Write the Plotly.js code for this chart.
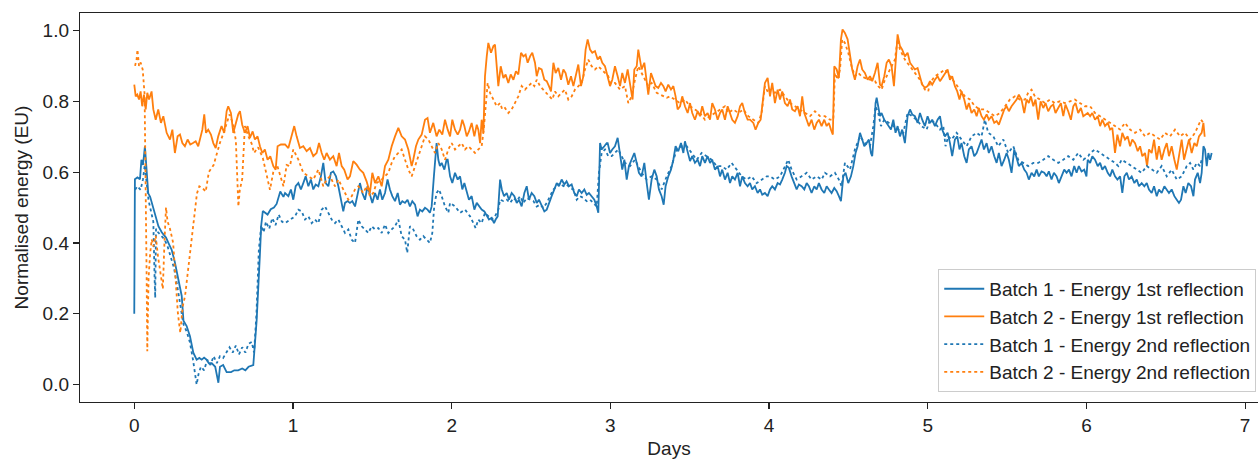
<!DOCTYPE html>
<html>
<head>
<meta charset="utf-8">
<script src="https://cdn.plot.ly/plotly-3.0.1.min.js"></script>
<style>html,body{margin:0;padding:0;background:#fff;}#chart{width:1258px;height:459px;}</style>
</head>
<body>
<div id="chart"></div>
<script>
// Batch 1 - Energy 1st reflection
const b1r1_days = [0,0.004,0.02,0.036,0.045,0.055,0.067,0.078,0.088,0.1,0.12,0.141,0.152,0.173,0.19,0.2,0.215,0.236,0.256,0.277,0.299,0.31,0.33,0.351,0.372,0.393,0.41,0.425,0.44,0.456,0.47,0.488,0.51,0.53,0.54,0.56,0.582,0.61,0.63,0.655,0.68,0.7,0.72,0.75,0.771,0.792,0.8,0.81,0.824,0.84,0.86,0.88,0.897,0.92,0.94,
0.950,0.971,0.987,1.002,1.017,1.034,1.050,1.065,1.080,1.097,1.113,1.128,1.143,1.160,1.176,1.191,1.206,1.223,1.239,1.254,1.271,1.286,1.302,1.317,1.328,1.344,1.359,1.374,1.391,1.407,1.422,1.437,1.454,1.470,1.485,1.500,1.517,1.533,1.548,1.563,1.580,1.596,1.611,1.626,1.643,1.660,1.674,1.689,1.706,1.722,1.737,1.752,1.769,1.785,1.800,1.815,1.832,1.848,1.863,1.874,1.888,1.899,1.905,1.916,1.926,1.937,1.954,1.968,
1.975,1.990,2.004,2.021,2.038,2.053,2.067,2.080,2.095,2.109,2.126,2.143,2.158,2.172,2.189,2.206,2.221,2.235,2.252,2.267,2.277,2.290,2.305,2.316,2.330,2.347,2.361,2.378,2.395,2.410,2.424,2.441,2.458,2.473,2.487,2.504,2.521,2.536,2.550,2.567,2.584,2.599,2.613,2.630,2.647,2.662,2.676,2.693,2.710,2.724,2.739,2.756,2.773,2.788,2.802,2.819,2.836,2.851,2.865,2.882,2.899,2.914,2.924,2.935,2.945,2.962,2.977,
2.983,2.998,3.012,3.029,3.046,3.061,3.075,3.088,3.103,3.117,3.134,3.151,3.166,3.180,3.197,3.214,3.229,3.243,3.260,3.277,3.292,3.306,3.323,3.336,3.348,3.365,3.382,3.397,3.411,3.428,3.445,3.460,3.470,3.487,3.502,3.516,3.533,3.550,3.565,3.579,3.596,3.613,3.628,3.642,3.659,3.676,3.691,3.705,3.722,3.739,3.754,3.768,3.785,3.802,3.817,3.831,3.848,3.865,3.880,3.894,3.911,3.928,3.943,3.957,3.974,
3.991,4.006,4.020,4.037,4.054,4.069,4.083,4.100,4.111,4.125,4.142,4.159,4.174,4.188,4.205,4.222,4.237,4.251,4.268,4.285,4.300,4.314,4.331,4.348,4.363,4.377,4.394,4.411,4.426,4.440,4.453,4.468,4.482,4.499,4.516,4.531,4.545,4.558,4.573,4.587,4.600,4.615,4.629,4.642,4.650,4.663,4.671,4.678,4.688,4.699,4.709,4.726,4.741,4.755,4.768,4.783,4.797,4.810,4.825,4.839,4.856,4.873,4.888,4.902,4.919,4.936,4.951,4.965,4.982,
4.999,5.014,5.028,5.045,5.062,5.077,5.091,5.108,5.125,5.140,5.154,5.171,5.186,5.200,5.213,5.230,5.245,5.259,5.276,5.293,5.308,5.322,5.339,5.354,5.371,5.385,5.402,5.419,5.434,5.448,5.465,5.482,5.497,5.511,5.528,5.545,5.560,5.574,5.591,5.608,5.623,5.637,5.654,5.671,5.686,5.700,5.717,5.734,5.749,5.763,5.780,5.795,5.812,5.826,5.843,5.860,5.875,5.890,5.906,5.923,5.938,5.952,5.969,5.986,6.000,
6.008,6.023,6.037,6.054,6.071,6.086,6.100,6.117,6.134,6.149,6.163,6.180,6.195,6.212,6.226,6.239,6.254,6.268,6.285,6.302,6.317,6.331,6.348,6.365,6.380,6.394,6.411,6.426,6.443,6.457,6.474,6.491,6.506,6.520,6.537,6.554,6.569,6.583,6.596,6.611,6.625,6.642,6.659,6.674,6.684,6.701,6.716,6.726,6.737,6.747,6.758,6.768,6.779,6.789];
const b1r1_vals = [0.20,0.58,0.585,0.58,0.635,0.62,0.673,0.60,0.54,0.53,0.50,0.466,0.447,0.43,0.42,0.415,0.40,0.38,0.345,0.30,0.25,0.18,0.165,0.136,0.09,0.07,0.075,0.07,0.076,0.07,0.06,0.06,0.05,0.005,0.05,0.055,0.035,0.035,0.04,0.04,0.045,0.04,0.05,0.055,0.18,0.37,0.45,0.49,0.485,0.48,0.495,0.50,0.51,0.545,0.53,
0.541,0.532,0.551,0.522,0.560,0.569,0.551,0.569,0.588,0.560,0.579,0.551,0.565,0.560,0.588,0.626,0.569,0.560,0.598,0.602,0.588,0.560,0.522,0.489,0.513,0.518,0.513,0.518,0.503,0.541,0.569,0.541,0.522,0.560,0.532,0.513,0.541,0.522,0.551,0.522,0.541,0.579,0.551,0.532,0.518,0.541,0.508,0.518,0.513,0.522,0.503,0.518,0.508,0.475,0.494,0.489,0.499,0.494,0.485,0.503,0.588,0.654,0.682,0.635,0.617,0.626,0.607,0.635,
0.635,0.588,0.569,0.598,0.579,0.588,0.551,0.569,0.541,0.522,0.532,0.494,0.513,0.503,0.494,0.489,0.475,0.466,0.471,0.456,0.466,0.475,0.579,0.551,0.532,0.541,0.522,0.541,0.532,0.513,0.522,0.503,0.541,0.560,0.522,0.541,0.532,0.513,0.522,0.503,0.489,0.494,0.513,0.532,0.551,0.569,0.560,0.579,0.565,0.574,0.560,0.565,0.541,0.532,0.551,0.541,0.551,0.536,0.541,0.532,0.522,0.503,0.485,0.682,0.664,0.673,0.682,
0.682,0.654,0.664,0.673,0.697,0.654,0.607,0.635,0.579,0.617,0.635,0.654,0.626,0.598,0.588,0.626,0.569,0.522,0.579,0.607,0.588,0.551,0.532,0.508,0.560,0.588,0.607,0.635,0.673,0.659,0.682,0.654,0.687,0.654,0.631,0.645,0.626,0.635,0.617,0.645,0.626,0.645,0.626,0.635,0.607,0.617,0.588,0.607,0.579,0.598,0.569,0.588,0.579,0.598,0.560,0.588,0.569,0.560,0.569,0.551,0.560,0.541,0.551,0.536,0.541,
0.532,0.551,0.560,0.551,0.569,0.565,0.579,0.598,0.617,0.612,0.588,0.569,0.551,0.565,0.560,0.551,0.569,0.560,0.541,0.560,0.551,0.569,0.551,0.541,0.560,0.551,0.541,0.555,0.546,0.532,0.518,0.588,0.598,0.569,0.588,0.617,0.654,0.673,0.711,0.692,0.673,0.682,0.692,0.654,0.645,0.720,0.795,0.810,0.786,0.758,0.767,0.748,0.739,0.730,0.720,0.748,0.711,0.730,0.701,0.720,0.682,0.758,0.777,0.763,0.758,0.739,0.767,0.748,0.730,
0.758,0.739,0.748,0.730,0.748,0.758,0.720,0.701,0.711,0.682,0.645,0.692,0.701,0.664,0.682,0.645,0.626,0.664,0.673,0.645,0.654,0.673,0.692,0.664,0.682,0.654,0.673,0.645,0.626,0.654,0.617,0.635,0.654,0.635,0.598,0.664,0.635,0.617,0.626,0.607,0.598,0.579,0.598,0.588,0.607,0.588,0.602,0.598,0.588,0.602,0.579,0.598,0.588,0.569,0.588,0.607,0.598,0.607,0.588,0.617,0.598,0.617,0.602,0.607,0.588,
0.635,0.626,0.645,0.635,0.617,0.626,0.607,0.617,0.598,0.588,0.607,0.588,0.579,0.588,0.541,0.588,0.598,0.579,0.588,0.569,0.579,0.560,0.569,0.560,0.569,0.551,0.541,0.560,0.532,0.551,0.541,0.560,0.551,0.541,0.551,0.532,0.522,0.513,0.522,0.560,0.541,0.569,0.560,0.532,0.579,0.598,0.569,0.598,0.673,0.664,0.617,0.654,0.635,0.654];

// Batch 2 - Energy 1st reflection
const b2r1_days = [0,0.009,0.019,0.030,0.040,0.050,0.061,0.072,0.082,0.093,0.109,0.120,0.135,0.151,0.168,0.183,0.204,0.225,0.240,0.256,0.273,0.288,0.303,0.319,0.336,0.353,0.370,0.387,0.403,0.420,0.429,0.441,0.452,0.466,0.483,0.498,0.513,0.529,0.550,0.567,0.582,0.592,0.609,0.624,0.641,0.655,0.666,0.680,0.697,0.714,0.729,0.746,0.760,0.777,0.792,0.807,0.823,0.840,0.857,0.876,0.891,0.903,0.924,
0.950,0.971,0.992,1.008,1.023,1.044,1.065,1.086,1.107,1.128,1.149,1.164,1.181,1.197,1.212,1.233,1.254,1.275,1.290,1.307,1.323,1.344,1.359,1.380,1.401,1.422,1.443,1.464,1.485,1.500,1.517,1.538,1.559,1.580,1.601,1.622,1.643,1.664,1.685,1.706,1.727,1.748,1.758,1.775,1.790,1.811,1.832,1.848,1.863,1.884,1.905,1.922,1.941,1.958,
1.975,1.990,2.004,2.021,2.038,2.053,2.067,2.080,2.095,2.109,2.126,2.143,2.158,2.168,2.179,2.189,2.200,2.210,2.221,2.231,2.248,2.263,2.273,2.284,2.294,2.309,2.326,2.340,2.357,2.372,2.389,2.405,2.420,2.437,2.452,2.466,2.479,2.494,2.508,2.525,2.536,2.550,2.567,2.584,2.599,2.613,2.626,2.641,2.655,2.672,2.689,2.704,2.718,2.735,2.752,2.767,2.783,2.798,2.815,2.830,2.844,2.857,2.872,2.886,2.903,2.920,2.935,2.949,2.966,
2.983,2.998,3.012,3.029,3.046,3.061,3.075,3.092,3.109,3.124,3.140,3.151,3.166,3.176,3.187,3.197,3.214,3.229,3.239,3.256,3.271,3.285,3.302,3.319,3.334,3.348,3.365,3.382,3.397,3.411,3.424,3.439,3.453,3.470,3.487,3.502,3.516,3.533,3.550,3.565,3.579,3.596,3.613,3.628,3.642,3.659,3.676,3.691,3.705,3.722,3.739,3.754,3.768,3.785,3.802,3.817,3.831,3.848,3.865,3.880,3.901,3.915,3.932,3.947,3.964,
3.974,3.991,4.006,4.020,4.037,4.054,4.069,4.083,4.100,4.117,4.132,4.146,4.163,4.180,4.195,4.209,4.222,4.237,4.251,4.268,4.285,4.300,4.314,4.331,4.348,4.363,4.377,4.390,4.402,4.411,4.426,4.440,4.453,4.463,4.478,4.495,4.510,4.524,4.541,4.558,4.573,4.587,4.604,4.621,4.636,4.650,4.667,4.684,4.699,4.709,4.726,4.741,4.755,4.772,4.787,4.799,4.810,4.825,4.839,4.856,4.873,4.888,4.902,4.919,4.936,4.951,4.965,4.982,
4.999,5.014,5.028,5.045,5.062,5.077,5.091,5.108,5.125,5.140,5.154,5.171,5.186,5.200,5.213,5.230,5.245,5.259,5.276,5.293,5.308,5.322,5.339,5.354,5.371,5.385,5.402,5.419,5.434,5.448,5.465,5.482,5.497,5.511,5.528,5.545,5.560,5.574,5.591,5.608,5.623,5.637,5.650,5.665,5.679,5.696,5.711,5.728,5.742,5.759,5.776,5.791,5.805,5.822,5.839,5.854,5.868,5.885,5.902,5.917,5.931,5.948,5.965,5.980,
6.008,6.023,6.037,6.054,6.071,6.086,6.100,6.117,6.134,6.149,6.163,6.180,6.195,6.212,6.226,6.243,6.260,6.275,6.289,6.306,6.323,6.338,6.352,6.369,6.382,6.394,6.411,6.426,6.443,6.457,6.474,6.491,6.506,6.520,6.537,6.554,6.569,6.583,6.600,6.615,6.632,6.646,6.663,6.680,6.695,6.709,6.726,6.737,6.745];
const b2r1_vals = [0.847,0.814,0.819,0.805,0.828,0.786,0.819,0.777,0.824,0.805,0.828,0.777,0.748,0.777,0.739,0.758,0.711,0.692,0.720,0.654,0.701,0.706,0.682,0.673,0.692,0.678,0.682,0.687,0.673,0.701,0.720,0.763,0.711,0.720,0.706,0.682,0.668,0.701,0.730,0.711,0.772,0.786,0.767,0.711,0.744,0.763,0.772,0.734,0.711,0.730,0.697,0.715,0.692,0.701,0.673,0.654,0.664,0.635,0.645,0.617,0.607,0.673,0.678,
0.678,0.668,0.701,0.730,0.701,0.668,0.673,0.659,0.668,0.645,0.654,0.682,0.654,0.635,0.654,0.635,0.645,0.617,0.654,0.617,0.607,0.579,0.588,0.631,0.621,0.607,0.598,0.574,0.541,0.598,0.569,0.588,0.560,0.617,0.635,0.673,0.701,0.725,0.701,0.692,0.664,0.617,0.635,0.673,0.692,0.706,0.748,0.753,0.711,0.739,0.701,0.720,0.706,0.748,
0.720,0.701,0.748,0.720,0.706,0.720,0.748,0.730,0.701,0.715,0.739,0.701,0.734,0.720,0.682,0.748,0.711,0.871,0.927,0.965,0.937,0.956,0.960,0.890,0.843,0.899,0.866,0.876,0.852,0.876,0.861,0.885,0.876,0.937,0.927,0.932,0.909,0.927,0.937,0.909,0.871,0.894,0.890,0.861,0.857,0.843,0.828,0.909,0.880,0.894,0.861,0.890,0.880,0.847,0.871,0.843,0.880,0.904,0.843,0.871,0.946,0.975,0.946,0.937,0.942,0.918,0.927,0.909,0.899,
0.871,0.843,0.861,0.899,0.871,0.843,0.880,0.852,0.890,0.843,0.805,0.890,0.899,0.946,0.918,0.890,0.909,0.852,0.819,0.880,0.861,0.843,0.838,0.852,0.843,0.828,0.847,0.833,0.843,0.814,0.777,0.786,0.814,0.786,0.767,0.795,0.767,0.748,0.772,0.758,0.786,0.758,0.767,0.748,0.795,0.777,0.748,0.767,0.777,0.748,0.786,0.767,0.748,0.739,0.758,0.786,0.795,0.767,0.748,0.748,0.739,0.720,0.739,0.748,0.805,
0.852,0.866,0.814,0.852,0.795,0.833,0.805,0.828,0.795,0.786,0.805,0.777,0.772,0.786,0.758,0.814,0.767,0.748,0.730,0.748,0.720,0.739,0.748,0.730,0.748,0.730,0.739,0.720,0.706,0.899,0.890,0.866,0.975,1.003,0.993,0.975,0.927,0.890,0.861,0.899,0.918,0.890,0.880,0.861,0.871,0.857,0.880,0.909,0.847,0.843,0.871,0.909,0.918,0.899,0.843,0.937,0.989,0.956,0.946,0.927,0.937,0.909,0.899,0.890,0.894,0.871,0.847,0.838,
0.843,0.857,0.847,0.861,0.871,0.857,0.866,0.876,0.890,0.861,0.871,0.843,0.828,0.805,0.828,0.805,0.777,0.795,0.767,0.777,0.758,0.781,0.758,0.748,0.763,0.748,0.758,0.739,0.744,0.734,0.758,0.777,0.786,0.772,0.786,0.795,0.805,0.819,0.805,0.767,0.805,0.795,0.814,0.786,0.805,0.748,0.800,0.781,0.795,0.772,0.786,0.791,0.767,0.781,0.795,0.758,0.791,0.772,0.748,0.786,0.795,0.767,0.781,0.758,
0.767,0.758,0.767,0.748,0.758,0.730,0.748,0.730,0.739,0.720,0.725,0.654,0.706,0.673,0.711,0.692,0.701,0.673,0.692,0.682,0.659,0.673,0.645,0.654,0.617,0.664,0.654,0.692,0.635,0.673,0.635,0.664,0.682,0.645,0.673,0.635,0.607,0.645,0.692,0.635,0.664,0.692,0.654,0.682,0.673,0.701,0.711,0.739,0.700];

// Batch 1 - Energy 2nd reflection
const b1r2_days = [0.005,0.02,0.04,0.055,0.066,0.078,0.09,0.105,0.12,0.128,0.132,0.137,0.15,0.17,0.19,0.21,0.23,0.25,0.27,0.29,0.31,0.33,0.35,0.37,0.385,0.393,0.405,0.42,0.44,0.46,0.48,0.50,0.52,0.54,0.56,0.58,0.60,0.62,0.64,0.66,0.68,0.70,0.72,0.74,0.755,0.77,0.785,0.80,0.815,0.83,0.85,0.87,0.89,0.91,0.93,
0.950,0.981,1.013,1.034,1.055,1.076,1.097,1.118,1.139,1.160,1.181,1.202,1.223,1.244,1.265,1.286,1.307,1.328,1.349,1.370,1.391,1.412,1.433,1.454,1.475,1.496,1.517,1.538,1.559,1.580,1.601,1.622,1.643,1.664,1.685,1.706,1.720,1.737,1.758,1.779,1.800,1.821,1.842,1.863,1.878,1.890,1.905,1.920,1.937,1.958,1.979,
1.990,2.021,2.053,2.084,2.116,2.137,2.151,2.168,2.189,2.210,2.231,2.252,2.273,2.294,2.305,2.326,2.347,2.368,2.389,2.410,2.431,2.452,2.473,2.494,2.515,2.536,2.557,2.578,2.599,2.620,2.641,2.662,2.683,2.704,2.725,2.746,2.767,2.788,2.809,2.830,2.851,2.872,2.893,2.914,2.928,2.945,2.966,2.987,
3.008,3.050,3.092,3.124,3.155,3.197,3.229,3.260,3.292,3.323,3.355,3.386,3.418,3.449,3.481,3.512,3.544,3.575,3.607,3.638,3.670,3.701,3.733,3.764,3.796,3.827,3.859,3.890,3.922,3.953,3.985,
4.006,4.037,4.069,4.100,4.121,4.142,4.174,4.205,4.237,4.268,4.300,4.331,4.352,4.384,4.415,4.440,4.457,4.478,4.510,4.541,4.573,4.604,4.636,4.657,4.671,4.688,4.705,4.726,4.751,4.783,4.814,4.846,4.873,4.898,4.930,4.961,4.993,
5.014,5.045,5.077,5.098,5.112,5.129,5.150,5.182,5.213,5.245,5.276,5.308,5.339,5.360,5.381,5.413,5.444,5.476,5.507,5.539,5.570,5.602,5.633,5.665,5.696,5.728,5.759,5.791,5.822,5.854,5.885,5.917,5.948,5.980,6.011,
6.023,6.054,6.086,6.117,6.149,6.180,6.201,6.222,6.254,6.285,6.317,6.348,6.380,6.411,6.443,6.474,6.506,6.537,6.569,6.600,6.632,6.653,6.674,6.695,6.716,6.726];
const b1r2_vals = [0.55,0.56,0.55,0.58,0.62,0.56,0.52,0.49,0.46,0.30,0.245,0.44,0.43,0.42,0.41,0.39,0.36,0.33,0.28,0.22,0.17,0.15,0.12,0.07,0.02,0.0,0.03,0.05,0.04,0.07,0.055,0.08,0.06,0.08,0.075,0.09,0.105,0.09,0.11,0.085,0.105,0.09,0.115,0.12,0.09,0.2,0.38,0.45,0.43,0.46,0.44,0.47,0.45,0.48,0.46,
0.456,0.466,0.475,0.494,0.489,0.466,0.475,0.456,0.466,0.456,0.494,0.503,0.485,0.466,0.456,0.466,0.447,0.428,0.438,0.409,0.400,0.466,0.447,0.438,0.428,0.447,0.438,0.442,0.428,0.452,0.428,0.438,0.447,0.466,0.419,0.409,0.372,0.447,0.438,0.419,0.409,0.419,0.409,0.400,0.428,0.503,0.541,0.551,0.532,0.503,0.485,
0.513,0.503,0.485,0.494,0.475,0.456,0.442,0.466,0.456,0.485,0.475,0.466,0.475,0.494,0.522,0.518,0.522,0.513,0.527,0.518,0.532,0.513,0.527,0.522,0.518,0.503,0.508,0.499,0.513,0.532,0.551,0.560,0.569,0.560,0.565,0.555,0.551,0.522,0.532,0.527,0.518,0.522,0.513,0.503,0.598,0.654,0.664,0.645,
0.645,0.664,0.626,0.617,0.635,0.598,0.579,0.588,0.579,0.551,0.588,0.617,0.664,0.673,0.673,0.654,0.635,0.654,0.645,0.635,0.617,0.617,0.607,0.626,0.607,0.588,0.579,0.588,0.569,0.579,0.588,
0.588,0.579,0.588,0.617,0.635,0.607,0.579,0.588,0.598,0.579,0.588,0.579,0.598,0.588,0.598,0.579,0.560,0.626,0.607,0.664,0.701,0.682,0.673,0.730,0.786,0.767,0.730,0.748,0.739,0.730,0.720,0.711,0.767,0.758,0.748,0.730,0.720,
0.748,0.739,0.720,0.730,0.673,0.701,0.692,0.711,0.692,0.673,0.701,0.711,0.701,0.748,0.711,0.701,0.673,0.692,0.654,0.673,0.635,0.626,0.617,0.626,0.626,0.635,0.645,0.635,0.626,0.635,0.645,0.635,0.654,0.635,0.645,
0.654,0.664,0.654,0.645,0.635,0.626,0.617,0.635,0.626,0.617,0.607,0.598,0.617,0.607,0.598,0.617,0.588,0.607,0.579,0.588,0.617,0.626,0.607,0.626,0.617,0.635];

// Batch 2 - Energy 2nd reflection
const b2r2_days = [0.005,0.015,0.02,0.03,0.04,0.053,0.065,0.072,0.078,0.082,0.09,0.10,0.11,0.12,0.135,0.15,0.165,0.18,0.19,0.2,0.21,0.225,0.245,0.26,0.275,0.29,0.305,0.32,0.34,0.36,0.38,0.395,0.41,0.43,0.45,0.47,0.50,0.52,0.54,0.57,0.60,0.62,0.64,0.656,0.665,0.68,0.697,0.72,0.74,0.755,0.78,0.81,0.83,0.855,0.876,0.90,0.92,0.94,0.96,
0.981,1.002,1.034,1.065,1.097,1.128,1.160,1.191,1.212,1.233,1.265,1.286,1.307,1.328,1.349,1.370,1.391,1.412,1.443,1.464,1.485,1.506,1.527,1.559,1.580,1.601,1.622,1.643,1.664,1.685,1.706,1.727,1.748,1.769,1.790,1.811,1.832,1.853,1.874,1.895,1.916,1.937,1.958,1.979,
2.000,2.021,2.042,2.063,2.084,2.105,2.126,2.147,2.168,2.189,2.202,2.214,2.227,2.242,2.263,2.284,2.305,2.319,2.336,2.357,2.378,2.399,2.420,2.441,2.462,2.483,2.504,2.521,2.536,2.557,2.578,2.599,2.620,2.634,2.651,2.672,2.693,2.714,2.735,2.756,2.777,2.798,2.819,2.840,2.861,2.882,2.903,2.924,2.945,2.966,2.987,
2.998,3.029,3.061,3.092,3.113,3.134,3.155,3.176,3.197,3.218,3.239,3.260,3.292,3.313,3.334,3.355,3.376,3.407,3.439,3.470,3.502,3.533,3.565,3.596,3.628,3.659,3.691,3.722,3.743,3.775,3.806,3.838,3.869,3.901,3.932,3.953,3.974,3.995,
4.006,4.037,4.069,4.100,4.132,4.163,4.195,4.226,4.258,4.289,4.321,4.352,4.384,4.405,4.415,4.432,4.447,4.461,4.478,4.499,4.520,4.541,4.562,4.583,4.604,4.636,4.667,4.688,4.709,4.730,4.762,4.793,4.810,4.825,4.856,4.888,4.919,4.951,4.982,5.003,
5.014,5.045,5.077,5.108,5.140,5.171,5.203,5.234,5.266,5.297,5.329,5.360,5.392,5.423,5.455,5.486,5.518,5.549,5.581,5.612,5.633,5.654,5.675,5.707,5.738,5.770,5.801,5.833,5.864,5.896,5.927,5.959,5.990,
6.023,6.054,6.086,6.117,6.149,6.180,6.212,6.243,6.275,6.306,6.338,6.369,6.401,6.432,6.464,6.495,6.527,6.558,6.590,6.621,6.653,6.684,6.705,6.722,6.737];
const b2r2_vals = [0.90,0.92,0.946,0.90,0.91,0.89,0.82,0.60,0.30,0.094,0.30,0.37,0.41,0.39,0.42,0.36,0.32,0.27,0.40,0.50,0.46,0.44,0.40,0.30,0.20,0.146,0.22,0.25,0.33,0.40,0.48,0.54,0.56,0.555,0.545,0.60,0.62,0.65,0.683,0.72,0.763,0.74,0.69,0.503,0.55,0.58,0.73,0.70,0.68,0.654,0.67,0.64,0.60,0.55,0.60,0.62,0.59,0.56,0.62,
0.617,0.664,0.635,0.598,0.588,0.579,0.607,0.560,0.579,0.588,0.560,0.579,0.560,0.541,0.522,0.532,0.551,0.560,0.541,0.560,0.532,0.541,0.569,0.579,0.588,0.598,0.626,0.645,0.654,0.664,0.635,0.607,0.588,0.617,0.645,0.673,0.701,0.692,0.673,0.654,0.682,0.664,0.635,0.664,
0.682,0.664,0.673,0.682,0.664,0.673,0.664,0.654,0.664,0.673,0.720,0.795,0.852,0.824,0.805,0.786,0.795,0.777,0.781,0.767,0.777,0.795,0.814,0.843,0.833,0.843,0.852,0.843,0.861,0.843,0.833,0.824,0.814,0.805,0.828,0.814,0.824,0.833,0.805,0.814,0.833,0.843,0.852,0.890,0.918,0.899,0.890,0.899,0.890,0.880,0.871,
0.852,0.852,0.833,0.843,0.795,0.814,0.861,0.899,0.880,0.861,0.843,0.852,0.824,0.819,0.814,0.810,0.814,0.805,0.795,0.805,0.786,0.777,0.767,0.748,0.758,0.767,0.777,0.786,0.767,0.777,0.767,0.777,0.758,0.748,0.739,0.767,0.843,0.824,
0.833,0.824,0.833,0.814,0.795,0.786,0.777,0.767,0.758,0.772,0.758,0.758,0.748,0.748,0.880,0.861,0.890,0.975,0.965,0.937,0.899,0.871,0.880,0.871,0.866,0.861,0.857,0.843,0.833,0.861,0.890,0.918,0.975,0.946,0.918,0.899,0.880,0.861,0.833,0.828,
0.852,0.871,0.880,0.890,0.871,0.852,0.833,0.814,0.805,0.786,0.777,0.777,0.767,0.758,0.767,0.786,0.805,0.814,0.805,0.805,0.824,0.833,0.814,0.805,0.795,0.805,0.795,0.800,0.795,0.800,0.805,0.795,0.786,
0.786,0.767,0.758,0.748,0.739,0.730,0.720,0.739,0.720,0.711,0.720,0.701,0.711,0.701,0.692,0.711,0.701,0.720,0.701,0.711,0.692,0.711,0.730,0.748,0.739];

const seriesNames = ["Batch 1 - Energy 1st reflection","Batch 2 - Energy 1st reflection","Batch 1 - Energy 2nd reflection","Batch 2 - Energy 2nd reflection"];
const xTickVals = [0,1,2,3,4,5,6,7];
const yTickVals = [0.0,0.2,0.4,0.6,0.8,1.0];

const BLUE = "#1f77b4", ORANGE = "#ff7f0e";
function tr(x, y, name, color, dash, grp){
  return {x:x, y:y, name:name, type:"scatter", mode:"lines", legendgroup:grp,
          line:{color:color, width:1.8, dash:dash}, hoverinfo:"skip"};
}
const data = [
  tr(b1r1_days, b1r1_vals, seriesNames[0], BLUE, "solid", "g1"),
  tr(b2r1_days, b2r1_vals, seriesNames[1], ORANGE, "solid", "g2"),
  tr(b1r2_days, b1r2_vals, seriesNames[2], BLUE, "dot", "g3"),
  tr(b2r2_days, b2r2_vals, seriesNames[3], ORANGE, "dot", "g4")
];
const FONT = "Liberation Sans, Arial, Helvetica, sans-serif";
const TXT = "#222";
const layout = {
  width:1258, height:459,
  margin:{l:80, r:0, t:13, b:57},
  paper_bgcolor:"#fff", plot_bgcolor:"#fff",
  font:{family:FONT, size:19, color:TXT},
  showlegend:true,
  xaxis:{range:[-0.342,7.081], tickvals:xTickVals, ticktext:xTickVals.map(String),
         showgrid:false, zeroline:false, showline:true, linecolor:TXT, linewidth:1.2, mirror:true,
         ticks:"outside", ticklen:6, tickwidth:1.2, tickcolor:TXT,
         tickfont:{family:FONT, size:19, color:TXT},
         title:{text:"Days", font:{family:FONT, size:19, color:TXT}, standoff:8}},
  yaxis:{range:[-0.0495,1.0495], tickvals:yTickVals, ticktext:yTickVals.map(v=>v.toFixed(1)),
         showgrid:false, zeroline:false, showline:true, linecolor:TXT, linewidth:1.2, mirror:false,
         ticks:"outside", ticklen:6, tickwidth:1.2, tickcolor:TXT,
         tickfont:{family:FONT, size:19, color:TXT},
         title:{text:"Normalised energy (EU)", font:{family:FONT, size:19, color:TXT}, standoff:9}},
  legend:{x:0.9985, xanchor:"right", y:0.026, yanchor:"bottom", itemwidth:40,
          bgcolor:"rgba(255,255,255,0.9)", bordercolor:"#cccccc", borderwidth:1,
          font:{family:FONT, size:19, color:TXT}, tracegroupgap:1, traceorder:"normal"}
};
Plotly.newPlot("chart", data, layout, {staticPlot:true, displayModeBar:false});
</script>
</body>
</html>
